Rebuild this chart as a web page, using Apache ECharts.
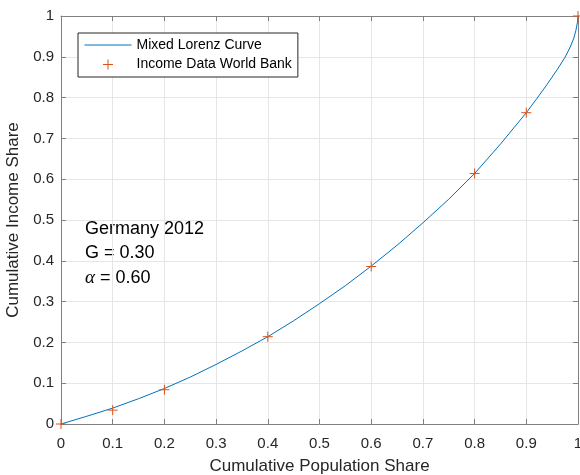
<!DOCTYPE html>
<html>
<head>
<meta charset="utf-8">
<title>Mixed Lorenz Curve – Germany 2012</title>
<script src="https://cdn.jsdelivr.net/npm/echarts@6/dist/echarts.min.js"></script>
<style>
  html, body { margin: 0; padding: 0; background: #ffffff; }
  #chart { width: 580px; height: 475px; }
</style>
</head>
<body>
<div id="chart"></div>
<script>
// Fitted mixed Lorenz curve, sampled along the population share
const curvePop = [0, 0.05, 0.1, 0.15, 0.2, 0.25, 0.3, 0.35, 0.4, 0.45, 0.5, 0.55, 0.6, 0.65, 0.7, 0.75, 0.8, 0.85, 0.9, 0.92, 0.94, 0.96, 0.975, 0.985, 0.992, 0.996, 0.999, 1];
const curveIncome = [0, 0.019, 0.039, 0.062, 0.087, 0.115, 0.146, 0.179, 0.214, 0.253, 0.295, 0.339, 0.387, 0.438, 0.493, 0.551, 0.614, 0.686, 0.763, 0.797, 0.832, 0.869, 0.899, 0.924, 0.946, 0.965, 0.985, 1];

// World Bank income distribution (cumulative shares)
const wbPop = [0, 0.1, 0.2, 0.4, 0.6, 0.8, 0.9, 1];
const wbIncome = [0, 0.034, 0.084, 0.214, 0.386, 0.614, 0.763, 1];

const seriesNames = ['Mixed Lorenz Curve', 'Income Data World Bank'];
const infoLines = ['Germany 2012', 'G = 0.30', '{a|\u03b1} = 0.60'];
const axisTitles = { x: 'Cumulative Population Share', y: 'Cumulative Income Share' };

const FONT = '"Liberation Sans", Arial, Helvetica, sans-serif';
const TEXT = '#262626';
const AXIS = '#808080';
const GRID = '#e6e6e6';
const BLUE = '#0072BD';
const ORANGE = '#D95319';

const pair = (xs, ys) => xs.map((x, i) => [x, ys[i]]);

// plus marker padded to a 47x10 box so it keeps its size in the wide legend slot
const plusLegendIcon = 'path://M0,5L0.001,5M18.5,5L28.5,5M23.5,0L23.5,10M46.999,5L47,5';

const chart = echarts.init(document.getElementById('chart'), null, { renderer: 'canvas' });

const baseAxis = {
  type: 'value',
  min: 0,
  max: 1,
  interval: 0.1,
  axisLine: { show: true, onZero: false, lineStyle: { color: AXIS, width: 1 } },
  axisTick: { show: true, inside: true, length: 5, lineStyle: { color: AXIS, width: 1 } },
  splitLine: { show: false }
};

chart.setOption({
  animation: false,
  backgroundColor: '#ffffff',
  textStyle: { fontFamily: FONT },
  grid: { left: 61, right: 2, top: 16, bottom: 51, containLabel: false, outerBoundsMode: 'none' },
  legend: {
    left: 78,
    top: 33,
    orient: 'vertical',
    selectedMode: false,
    backgroundColor: '#ffffff',
    borderColor: '#262626',
    borderWidth: 1,
    borderRadius: 0,
    padding: [5, 6, 5, 4],
    itemGap: 5,
    itemWidth: 47,
    itemHeight: 14,
    textStyle: { fontSize: 14, color: '#000000', fontFamily: FONT },
    data: [
      {
        name: seriesNames[0],
        itemStyle: { opacity: 0 },
        lineStyle: { color: BLUE, width: 1 }
      },
      {
        name: seriesNames[1],
        icon: plusLegendIcon,
        itemStyle: { color: 'none', borderColor: ORANGE, borderWidth: 1 }
      }
    ]
  },
  xAxis: [
    Object.assign({}, baseAxis, {
      position: 'bottom',
      name: axisTitles.x,
      nameLocation: 'middle',
      nameGap: 34,
      nameTextStyle: { fontSize: 17, color: TEXT, fontFamily: FONT },
      axisLabel: { show: true, fontSize: 15, color: TEXT, margin: 12, fontFamily: FONT },
      splitLine: { show: true, lineStyle: { color: GRID, width: 1 } }
    }),
    Object.assign({}, baseAxis, {
      position: 'top',
      axisLabel: { show: false }
    })
  ],
  yAxis: [
    Object.assign({}, baseAxis, {
      position: 'left',
      name: axisTitles.y,
      nameLocation: 'middle',
      nameGap: 30,
      nameTextStyle: { fontSize: 17, color: TEXT, fontFamily: FONT },
      axisLabel: { show: true, fontSize: 15, color: TEXT, margin: 7, fontFamily: FONT },
      splitLine: { show: true, lineStyle: { color: GRID, width: 1 } }
    }),
    Object.assign({}, baseAxis, {
      position: 'right',
      axisLabel: { show: false }
    })
  ],
  graphic: [
    {
      type: 'group',
      x: 85,
      y: 229,
      silent: true,
      children: infoLines.map((line, i) => ({
        type: 'text',
        x: 0,
        y: i * 24.5,
        style: {
          text: line,
          fill: '#000000',
          font: '18px ' + FONT,
          verticalAlign: 'middle',
          rich: {
            a: { fontFamily: '"Liberation Serif", "DejaVu Serif", serif', fontStyle: 'italic', fontSize: 19, fill: '#000000' }
          }
        }
      }))
    }
  ],
  series: [
    {
      name: seriesNames[0],
      type: 'line',
      xAxisIndex: 0,
      yAxisIndex: 0,
      data: pair(curvePop, curveIncome),
      symbol: 'none',
      smooth: false,
      lineStyle: { color: BLUE, width: 1 },
      itemStyle: { color: BLUE },
      z: 2
    },
    {
      name: seriesNames[1],
      type: 'scatter',
      xAxisIndex: 0,
      yAxisIndex: 0,
      data: pair(wbPop, wbIncome),
      symbol: 'path://M0,5L10,5M5,0L5,10',
      symbolSize: 10,
      clip: false,
      itemStyle: { color: 'none', borderColor: ORANGE, borderWidth: 1, opacity: 1 },
      z: 3
    }
  ]
});
</script>
</body>
</html>
